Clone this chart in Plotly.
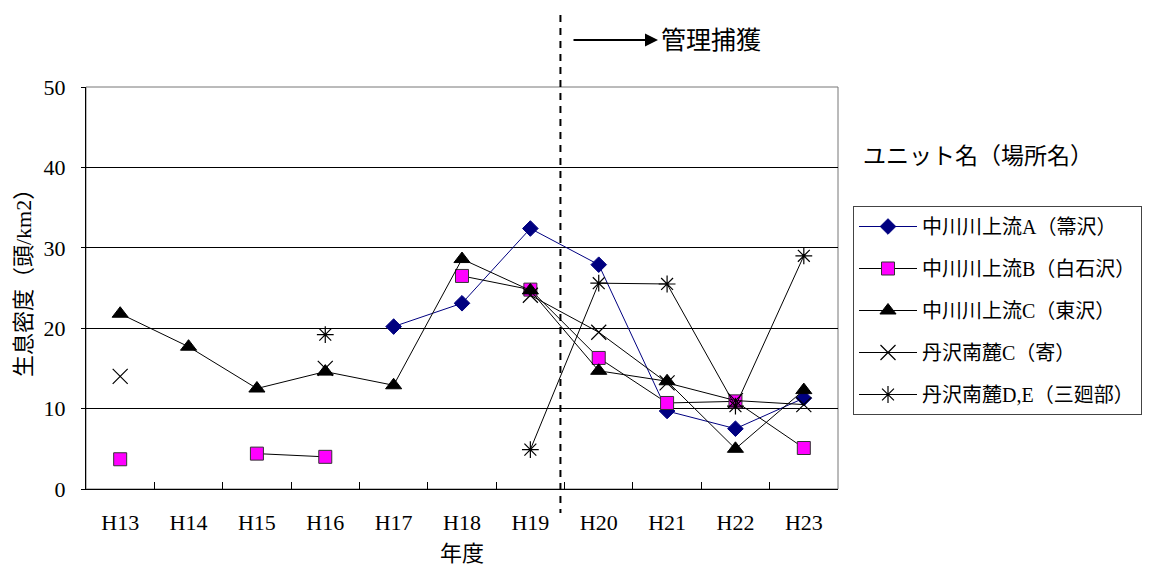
import plotly.graph_objects as go

# Fiscal years (Heisei)
years = ["H13", "H14", "H15", "H16", "H17", "H18", "H19", "H20", "H21", "H22", "H23"]

# Estimated deer density (head/km2) per survey unit; None = not surveyed
nakagawa_a = [None, None, None, None, 20.2, 23.1, 32.4, 27.9, 9.7, 7.5, 11.3]
nakagawa_b = [3.7, None, 4.4, 4.0, None, 26.5, 24.8, 16.3, 10.7, 10.9, 5.1]
nakagawa_c = [21.8, 17.7, 12.5, 14.6, 12.9, 28.6, 24.7, 14.7, 13.4, 5.0, 12.3]
tanzawa_c = [14.0, None, None, 15.0, None, None, 24.1, 19.5, 13.2, 11.0, 10.5]
tanzawa_de = [None, None, None, 19.2, None, None, 4.9, 25.6, 25.5, 10.3, 29.0]

names = ["中川川上流A（箒沢）", "中川川上流B（白石沢）", "中川川上流C（東沢）",
         "丹沢南麓C（寄）", "丹沢南麓D,E（三廻部）"]

FONT = "Liberation Serif, Noto Sans CJK JP"

styles = [
    dict(line=dict(color="#000080", width=1),
         marker=dict(symbol="diamond", size=12, color="#000080",
                     line=dict(color="#000080", width=1))),
    dict(line=dict(color="black", width=1),
         marker=dict(symbol="square", size=13, color="#FF00FF",
                     line=dict(color="#333333", width=1))),
    dict(line=dict(color="black", width=1),
         marker=dict(symbol="triangle-up", size=14, color="black",
                     line=dict(color="black", width=1))),
    dict(line=dict(color="black", width=1),
         marker=dict(symbol="x-thin", size=15, color="black",
                     line=dict(color="black", width=1.2))),
    dict(line=dict(color="black", width=1),
         marker=dict(symbol="asterisk", size=14, color="black",
                     line=dict(color="black", width=1.2))),
]

fig = go.Figure()
for i, (name, vals, st) in enumerate(zip(
        names, [nakagawa_a, nakagawa_b, nakagawa_c, tanzawa_c, tanzawa_de], styles)):
    fig.add_trace(go.Scatter(
        x=years, y=vals, name=name, mode="lines+markers",
        legendgroup=f"g{i}", connectgaps=False, **st))

W, H = 1156, 567
L, R, T, B = 86, 318, 87, 78
PW, PH = W - L - R, H - T - B


def px_x(x):
    return (x - L) / PW


def px_y(y):
    return (H - B - y) / PH


# start of culling: dashed divider between H19 and H20
fig.add_shape(type="line", xref="x", yref="paper",
              x0=6.44, x1=6.44, y0=px_y(15), y1=px_y(513),
              line=dict(color="black", width=2, dash="7px,6px"))

# plot frame (top / right in grey)
fig.add_shape(type="rect", xref="paper", yref="paper", x0=0, x1=1, y0=0, y1=1,
              line=dict(color="#777777", width=1), layer="below")

fig.add_annotation(xref="paper", yref="paper", x=px_x(658), y=px_y(40),
                   ax=-86, ay=0, showarrow=True, arrowhead=2, arrowsize=1.3,
                   arrowwidth=2, arrowcolor="black", text="")
fig.add_annotation(xref="paper", yref="paper", x=px_x(659), y=px_y(41),
                   xanchor="left", yanchor="middle", showarrow=False,
                   text="管理捕獲", font=dict(family=FONT, size=25, color="black"))

fig.add_annotation(xref="paper", yref="paper", x=px_x(861), y=px_y(156),
                   xanchor="left", yanchor="middle", showarrow=False,
                   text="ユニット名（場所名）", font=dict(family=FONT, size=23, color="black"))

fig.add_annotation(xref="paper", yref="paper", x=0.5, y=px_y(553),
                   xanchor="center", yanchor="middle", showarrow=False,
                   text="年度", font=dict(family=FONT, size=22, color="black"))
fig.add_annotation(xref="paper", yref="paper", x=px_x(23), y=px_y(278),
                   xanchor="center", yanchor="middle", showarrow=False, textangle=-90,
                   text="生息密度（頭/km2）", font=dict(family=FONT, size=22, color="black"))

fig.update_layout(
    width=W, height=H,
    margin=dict(l=L, r=R, t=T, b=B, autoexpand=False),
    paper_bgcolor="white", plot_bgcolor="white",
    font=dict(family=FONT, size=20, color="black"),
    showlegend=True,
    legend=dict(x=px_x(853), y=px_y(206), xanchor="left", yanchor="top",
                bordercolor="#444444", borderwidth=1, bgcolor="white",
                font=dict(family=FONT, size=20, color="black"),
                tracegroupgap=13, itemwidth=58, entrywidth=320,
                entrywidthmode="pixels"),
)

fig.update_xaxes(
    type="category", range=[-0.5, 10.5], showgrid=False,
    showline=True, linecolor="black", linewidth=1,
    ticks="inside", tickson="boundaries", ticklen=7, tickcolor="black",
    tickfont=dict(family=FONT, size=22, color="black"),
    ticklabelstandoff=14, fixedrange=True,
)
fig.update_yaxes(
    range=[0, 50], dtick=10, showgrid=True, gridcolor="black", gridwidth=1,
    showline=True, linecolor="black", linewidth=1, zeroline=False,
    ticks="outside", ticklen=4, tickcolor="black",
    tickfont=dict(family=FONT, size=22, color="black"),
    ticklabelstandoff=11, fixedrange=True,
)

fig.write_html("out.html")
